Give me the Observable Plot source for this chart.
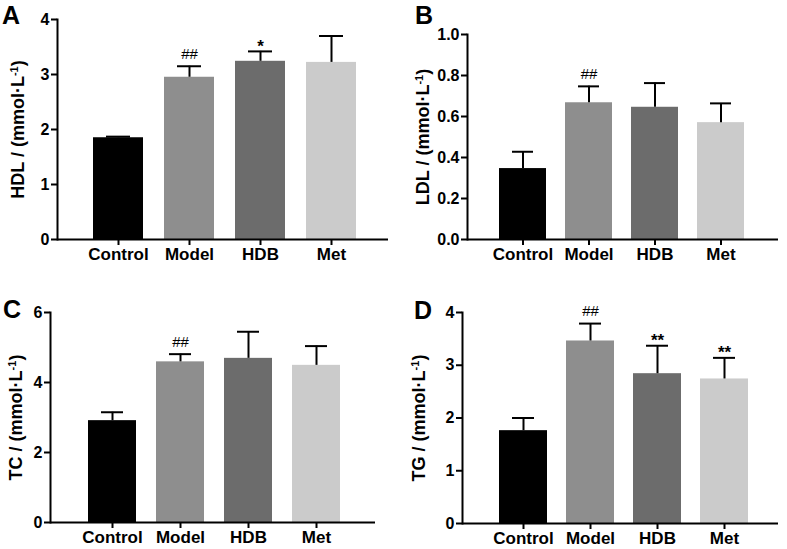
<!DOCTYPE html>
<html>
<head>
<meta charset="utf-8">
<script src="https://cdn.jsdelivr.net/npm/d3@7"></script>
<script src="https://cdn.jsdelivr.net/npm/@observablehq/plot@0.6"></script>
<style>
  body { margin: 0; background: #fff; }
  #wrap { position: relative; width: 787px; height: 549px; overflow: hidden; background: #fff; }
  .panel { position: absolute; }
  .letter { position: absolute; font-family: "Liberation Sans", Arial, sans-serif; font-size: 25px; font-weight: bold; line-height: 1; color: #000; }
</style>
</head>
<body>
<div id="wrap"></div>
<script>
// ---- data ----
const categories = ["Control", "Model", "HDB", "Met"];
const barColors = ["#000000", "#8e8e8e", "#6c6c6c", "#cbcbcb"];

const hdlMean = [1.85, 2.95, 3.24, 3.22];
const hdlSD   = [0.02, 0.20, 0.18, 0.48];
const hdlSig  = ["", "##", "*", ""];
const hdlTicks = [0, 1, 2, 3, 4];

const ldlMean = [0.346, 0.667, 0.645, 0.570];
const ldlSD   = [0.082, 0.080, 0.118, 0.094];
const ldlSig  = ["", "##", "", ""];
const ldlTicks = [0, 0.2, 0.4, 0.6, 0.8, 1.0];

const tcMean = [2.91, 4.59, 4.69, 4.49];
const tcSD   = [0.24, 0.22, 0.76, 0.55];
const tcSig  = ["", "##", "", ""];
const tcTicks = [0, 2, 4, 6];

const tgMean = [1.76, 3.46, 2.84, 2.74];
const tgSD   = [0.24, 0.33, 0.53, 0.40];
const tgSig  = ["", "##", "**", "**"];
const tgTicks = [0, 1, 2, 3, 4];

const panels = [
  {letter: "A", name: "HDL", mean: hdlMean, sd: hdlSD, sig: hdlSig, ticks: hdlTicks, fmt: d3.format("d"),
   left: 0, top: 0, width: 390, height: 270, mL: 57, mT: 19, mB: 31, mR: 2, inL: 12.5, inR: 9.5, pad: 0.30, labOff: 46,
   lx: 2, ly: 3},
  {letter: "B", name: "LDL", mean: ldlMean, sd: ldlSD, sig: ldlSig, ticks: ldlTicks, fmt: d3.format(".1f"),
   left: 390, top: 0, width: 397, height: 270, mL: 77, mT: 34, mB: 31, mR: 9, inL: 12, inR: 14, pad: 0.285, labOff: 51,
   lx: 415, ly: 3},
  {letter: "C", name: "TC", mean: tcMean, sd: tcSD, sig: tcSig, ticks: tcTicks, fmt: d3.format("d"),
   left: 0, top: 270, width: 390, height: 279, mL: 50, mT: 42, mB: 27, mR: 15, inL: 18.5, inR: 14.5, pad: 0.29, labOff: 41,
   lx: 3, ly: 297},
  {letter: "D", name: "TG", mean: tgMean, sd: tgSD, sig: tgSig, ticks: tgTicks, fmt: d3.format("d"),
   left: 390, top: 270, width: 397, height: 279, mL: 72, mT: 42, mB: 26, mR: 9, inL: 15.5, inR: 9.5, pad: 0.285, labOff: 50,
   lx: 414, ly: 298}
];

const wrap = document.getElementById("wrap");

for (const p of panels) {
  const rows = categories.map((c, i) => ({
    cat: c, mean: p.mean[i], top: p.mean[i] + p.sd[i], sig: p.sig[i], color: barColors[i]
  }));
  const yMax = p.ticks[p.ticks.length - 1];
  const chart = Plot.plot({
    width: p.width,
    height: p.height,
    marginLeft: p.mL,
    marginTop: p.mT,
    marginBottom: p.mB,
    marginRight: p.mR,
    style: {fontFamily: "'Liberation Sans', Arial, sans-serif", fontSize: "16px", fontWeight: "bold", background: "#fff", color: "#000", overflow: "visible"},
    x: {domain: categories, padding: p.pad, insetLeft: p.inL, insetRight: p.inR, label: null},
    y: {domain: [0, yMax], label: null},
    marks: [
      Plot.barY(rows, {x: "cat", y: "mean", fill: "color"}),
      Plot.ruleX(rows, {x: "cat", y1: "mean", y2: "top", stroke: "#000", strokeWidth: 2}),
      Plot.tickY(rows, {x: "cat", y: "top", stroke: "#000", strokeWidth: 2, insetLeft: 13, insetRight: 13}),
      Plot.text(rows.filter(d => d.sig.startsWith("#")), {x: "cat", y: "top", text: "sig", dy: -12, fontSize: 15, fontWeight: "normal", fill: "#000"}),
      Plot.text(rows.filter(d => d.sig.startsWith("*")), {x: "cat", y: "top", text: "sig", dy: -5, fontSize: 17, fontWeight: "bold", fill: "#000"}),
      Plot.axisX({tickSize: 6, tickPadding: 2, strokeWidth: 2, fontSize: 17, fontWeight: "bold", label: null}),
      Plot.axisY({ticks: p.ticks, tickFormat: p.fmt, tickSize: 6, tickPadding: 2, strokeWidth: 2, fontSize: 16, fontWeight: "bold",
        label: p.name + " / (mmol·L-1)", labelAnchor: "center", labelOffset: p.labOff}),
      Plot.ruleY([0], {stroke: "#000", strokeWidth: 2}),
      Plot.frame({anchor: "left", stroke: "#000", strokeWidth: 2})
    ]
  });
  chart.classList.add("panel");
  chart.style.left = p.left + "px";
  chart.style.top = p.top + "px";
  // superscript in axis label
  const lab = chart.querySelector('g[aria-label="y-axis label"] text');
  if (lab) {
    lab.setAttribute("font-size", "18");
    lab.setAttribute("font-weight", "bold");
    lab.textContent = "";
    const ns = "http://www.w3.org/2000/svg";
    const t1 = document.createElementNS(ns, "tspan");
    t1.textContent = p.name + " / (mmol·L";
    const t2 = document.createElementNS(ns, "tspan");
    t2.textContent = "-1";
    t2.setAttribute("baseline-shift", "super");
    t2.setAttribute("font-size", "11");
    const t3 = document.createElementNS(ns, "tspan");
    t3.textContent = ")";
    lab.append(t1, t2, t3);
  }
  wrap.appendChild(chart);

  const L = document.createElement("div");
  L.className = "letter";
  L.textContent = p.letter;
  L.style.left = p.lx + "px";
  L.style.top = p.ly + "px";
  wrap.appendChild(L);
}
</script>
</body>
</html>
